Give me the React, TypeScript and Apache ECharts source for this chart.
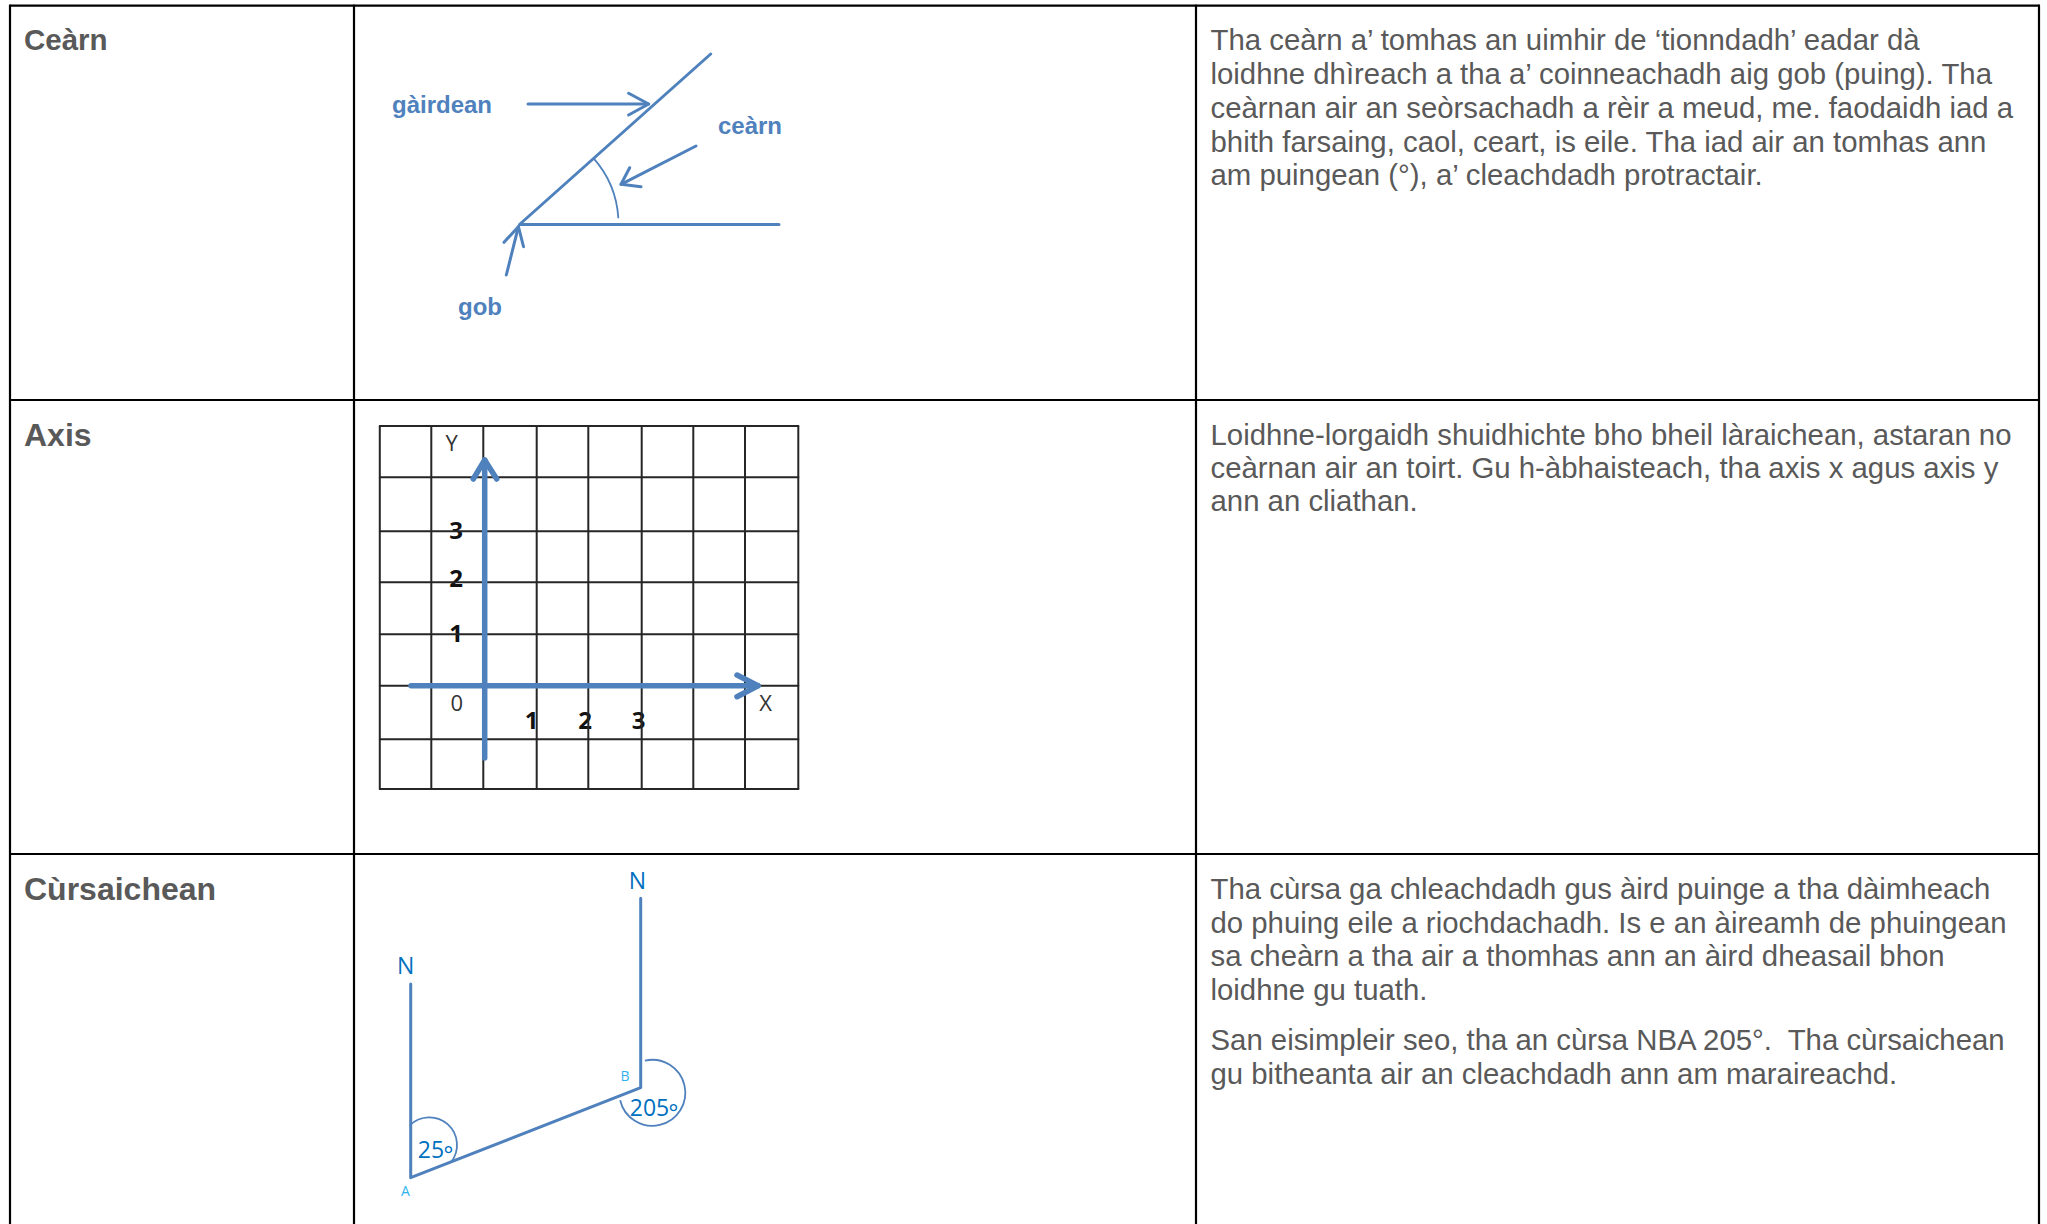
import React, { useEffect, useRef } from "react";
import * as echarts from "echarts";

const rowTitles = ["Ceàrn", "Axis", "Cùrsaichean"];
const rowTitleY = [39.5, 434.5, 889];
const rowTitleSizes = [29.5, 32, 32];

const bodyLines = [
  "Tha ceàrn a’ tomhas an uimhir de ‘tionndadh’ eadar dà",
  "loidhne dhìreach a tha a’ coinneachadh aig gob (puing). Tha",
  "ceàrnan air an seòrsachadh a rèir a meud, me. faodaidh iad a",
  "bhith farsaing, caol, ceart, is eile. Tha iad air an tomhas ann",
  "am puingean (°), a’ cleachdadh protractair.",
  "Loidhne-lorgaidh shuidhichte bho bheil làraichean, astaran no",
  "ceàrnan air an toirt. Gu h-àbhaisteach, tha axis x agus axis y",
  "ann an cliathan.",
  "Tha cùrsa ga chleachdadh gus àird puinge a tha dàimheach",
  "do phuing eile a riochdachadh. Is e an àireamh de phuingean",
  "sa cheàrn a tha air a thomhas ann an àird dheasail bhon",
  "loidhne gu tuath.",
  "San eisimpleir seo, tha an cùrsa NBA 205°.  Tha cùrsaichean",
  "gu bitheanta air an cleachdadh ann am maraireachd.",
];
const bodyLineY = [39, 73, 107, 141, 174.5, 434.5, 467, 500.5, 888, 922, 955.5, 989.5, 1039, 1073];

const tableX = [10, 354, 1196, 2039];
const tableY = [5.7, 400, 854];

const gridX = [379.8, 431.3, 483.3, 536.7, 588.3, 641.7, 693.3, 745, 798.3];
const gridY = [426, 477.3, 531.3, 582.3, 634.3, 685.7, 739.3, 789];

const angleLines = [
  [[710.7, 54], [519.5, 224.5], [779, 224.5]],
  [[528, 104], [648.7, 104]],
  [[628.6, 93.3], [648.7, 104], [628.6, 115]],
  [[696, 146], [621, 184.3]],
  [[629.7, 167.7], [621, 184.3], [641, 186.7]],
  [[506.3, 275], [518.4, 226.7]],
  [[504, 242.3], [518.4, 226.7], [523.5, 246.7]],
];
const axisLines = [
  [[484.7, 460], [484.7, 758]],
  [[473.3, 479], [484.7, 460], [496.7, 479]],
  [[411, 685.7], [758, 685.7]],
  [[737, 675], [758, 685.7], [737, 696.7]],
];
const courseLines = [
  [[410.7, 984], [410.7, 1177.7], [640.7, 1087.7], [640.7, 898.3]],
];
const arcs = [
  [519.5, 224, 99, -41.7, -3.3],
  [429.3, 1145, 27.7, 225, 399],
  [652.3, 1092.8, 33, 257, 527],
];

const angleLabels = ["gàirdean", "ceàrn", "gob"];
const angleLabelPos = [[442, 104], [750, 125], [480, 306]];
const axisPlainLabels = ["Y", "0", "X"];
const axisPlainPos = [[451.7, 442], [456.7, 702], [765.7, 702]];
const axisBoldLabels = ["3", "2", "1", "1", "2", "3"];
const axisBoldPos = [[456, 529], [456, 577], [456, 632], [531.7, 719], [585, 719], [638.5, 719]];
const courseMain = ["N", "N", "25", "°", "205", "°"];
const courseMainPos = [[405.7, 965], [637.3, 880], [431, 1149], [448.5, 1154], [649.5, 1107], [673.5, 1112]];
const courseSmall = ["A", "B"];
const courseSmallPos = [[405.3, 1190], [625, 1075]];

const BLUE = "#4f81bd";
const TEXT = "#595959";

function textEls(strs: string[], pos: number[][], style: any) {
  return strs.map((text, i) => ({
    type: "text",
    x: pos[i][0],
    y: pos[i][1],
    silent: true,
    style: { text, align: "center", verticalAlign: "middle", ...style },
  }));
}

function linesSeries(polys: number[][][], color: string, width: number) {
  return {
    type: "lines",
    coordinateSystem: "cartesian2d",
    polyline: true,
    silent: true,
    lineStyle: { color, width, opacity: 1, curveness: 0, cap: "round", join: "round" },
    data: polys.map((coords) => ({ coords })),
  };
}

export default function App() {
  const ref = useRef<HTMLDivElement>(null);
  useEffect(() => {
    const chart = echarts.init(ref.current!, null, { renderer: "svg" });
    const tableBottom = 1224;
    const tablePolys = [
      ...tableX.map((x) => [[x, tableY[0]], [x, tableBottom]]),
      ...tableY.map((y) => [[tableX[0], y], [tableX[3], y]]),
    ];
    const gridPolys = [
      ...gridX.map((x) => [[x, gridY[0]], [x, gridY[gridY.length - 1]]]),
      ...gridY.map((y) => [[gridX[0], y], [gridX[gridX.length - 1], y]]),
    ];
    const rowTitleEls = rowTitles.map((text, i) => ({
      type: "text",
      x: 24,
      y: rowTitleY[i],
      silent: true,
      style: {
        text,
        align: "left",
        verticalAlign: "middle",
        fontFamily: "Liberation Sans",
        fontWeight: "bold",
        fontSize: rowTitleSizes[i],
        fill: TEXT,
      },
    }));
    const bodyEls = bodyLines.map((text, i) => ({
      type: "text",
      x: 1210.5,
      y: bodyLineY[i],
      silent: true,
      style: {
        text,
        align: "left",
        verticalAlign: "middle",
        fontFamily: "Liberation Sans",
        fontSize: 29.35,
        fill: TEXT,
      },
    }));
    chart.setOption({
      animation: false,
      backgroundColor: "#ffffff",
      grid: { left: 0, top: 0, right: 0, bottom: 0 },
      xAxis: { type: "value", min: 0, max: 2047, show: false },
      yAxis: { type: "value", min: 0, max: 1224, inverse: true, show: false },
      series: [
        linesSeries(gridPolys, "#262626", 2),
        linesSeries(tablePolys, "#000000", 2.2),
        linesSeries(angleLines, BLUE, 3),
        linesSeries(axisLines, BLUE, 5.5),
        linesSeries(courseLines, BLUE, 3),
        {
          type: "custom",
          coordinateSystem: "cartesian2d",
          silent: true,
          clip: false,
          data: arcs,
          encode: { x: 0, y: 1 },
          renderItem: (_p: any, api: any) => {
            const c = api.coord([api.value(0), api.value(1)]);
            return {
              type: "arc",
              shape: {
                cx: c[0],
                cy: c[1],
                r: api.value(2),
                startAngle: (api.value(3) * Math.PI) / 180,
                endAngle: (api.value(4) * Math.PI) / 180,
                clockwise: true,
              },
              style: { fill: "none", stroke: BLUE, lineWidth: 1.8 },
            };
          },
        },
      ],
      graphic: {
        elements: [
          ...rowTitleEls,
          ...bodyEls,
          ...textEls(angleLabels, angleLabelPos, {
            fontFamily: "Liberation Sans",
            fontWeight: "bold",
            fontSize: 24,
            fill: BLUE,
          }),
          ...textEls(axisPlainLabels, axisPlainPos, {
            fontFamily: "Open Sans",
            fontSize: 22,
            fill: "#333333",
          }),
          ...textEls(axisBoldLabels, axisBoldPos, {
            fontFamily: "Open Sans",
            fontWeight: "bold",
            fontSize: 24,
            fill: "#111111",
          }),
          ...textEls(courseMain, courseMainPos, {
            fontFamily: "Open Sans",
            fontSize: 23,
            fill: "#0070c0",
          }),
          ...textEls(courseSmall, courseSmallPos, {
            fontFamily: "Open Sans",
            fontSize: 14,
            fill: "#2fb2f0",
          }),
        ],
      },
    });
    return () => chart.dispose();
  }, []);
  return (
    <div
      ref={ref}
      style={{ position: "fixed", left: 0, top: 0, width: 2047, height: 1224 }}
    />
  );
}
